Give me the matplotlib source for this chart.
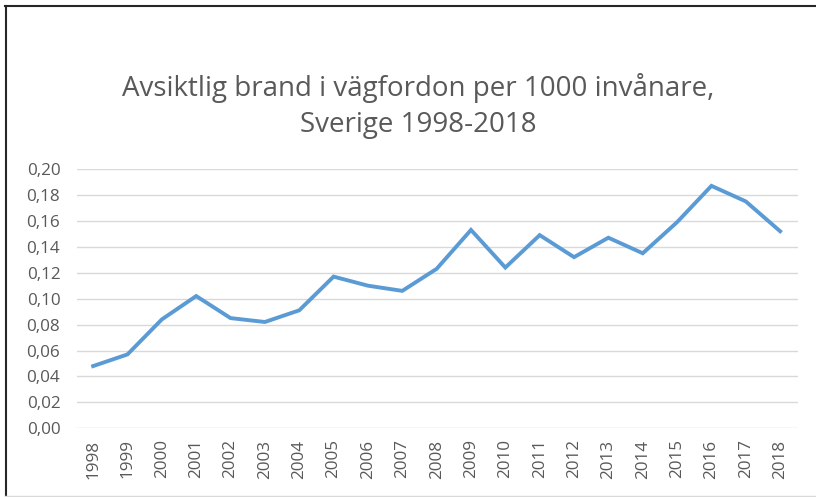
import matplotlib.pyplot as plt
from matplotlib.lines import Line2D
from matplotlib.ticker import FuncFormatter

years = [str(y) for y in range(1998, 2019)]
rate = [0.048, 0.057, 0.084, 0.102, 0.085, 0.082, 0.091, 0.117, 0.110, 0.106,
        0.123, 0.153, 0.124, 0.149, 0.132, 0.147, 0.135, 0.159, 0.187, 0.175, 0.152]

plt.rcParams["font.family"] = ["Open Sans", "DejaVu Sans"]
txt = "#595959"

fig = plt.figure(figsize=(8.16, 4.97), dpi=100)
ax = fig.add_axes([77 / 816, 1 - 428.3 / 497, 721 / 816, 259.3 / 497])

x = list(range(len(years)))
ax.plot(x, rate, color="#5B9BD5", linewidth=2.8, solid_joinstyle="miter")

ax.set_xlim(-0.47, 20.52)
ax.set_ylim(0, 0.2)
ax.set_yticks([i * 0.02 for i in range(11)])
ax.yaxis.set_major_formatter(FuncFormatter(lambda v, p: f"{v:.2f}".replace(".", ",")))
ax.set_xticks(x)
ax.set_xticklabels(years, rotation=90)
ax.tick_params(length=0, labelsize=12.3, labelcolor=txt)
ax.tick_params(axis="x", pad=8)
ax.tick_params(axis="y", pad=12)
ax.grid(axis="y", color="#D9D9D9", linewidth=1)
ax.set_axisbelow(True)
for s in ax.spines.values():
    s.set_visible(False)

fig.text(418 / 816, 1 - 88 / 497, "Avsiktlig brand i vägfordon per 1000 invånare,",
         ha="center", va="center", fontsize=20, color=txt)
fig.text(418 / 816, 1 - 125 / 497, "Sverige 1998-2018",
         ha="center", va="center", fontsize=20, color=txt)

# frame of the chart area
fig.add_artist(Line2D([5.5 / 816, 5.5 / 816], [0, 1 - 6 / 497], color="#262626", linewidth=1.5))
fig.add_artist(Line2D([5 / 816, 1], [1 - 6 / 497, 1 - 6 / 497], color="#262626", linewidth=1.5))
fig.add_artist(Line2D([5 / 816, 1], [1 - 496 / 497, 1 - 496 / 497], color="#D9D9D9", linewidth=1))

fig.savefig("out.png", dpi=100)
